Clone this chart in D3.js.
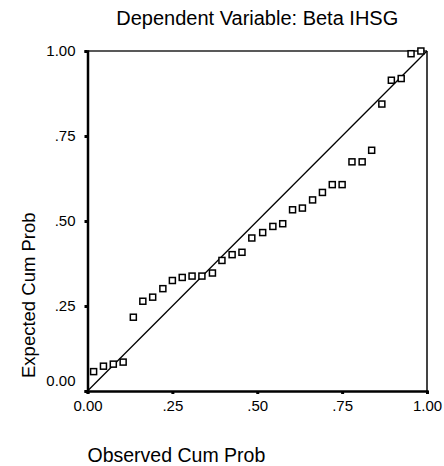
<!DOCTYPE html>
<html><head><meta charset="utf-8">
<script src="https://cdn.jsdelivr.net/npm/d3@7"></script>
<style>body{margin:0;background:#fff}svg{display:block}text{font-family:"Liberation Sans",Arial,sans-serif;fill:#000}</style>
</head><body>
<script>
const titleText = "Dependent Variable: Beta IHSG";
const xLabel = "Observed Cum Prob";
const yLabel = "Expected Cum Prob";
const tickValues = [0, 0.25, 0.5, 0.75, 1];
const tickLabels = ["0.00", ".25", ".50", ".75", "1.00"];
const observed = [0.018,0.047,0.076,0.105,0.135,0.163,0.192,0.222,0.250,0.279,0.308,0.337,0.368,0.396,0.426,0.455,0.484,0.516,0.546,0.575,0.604,0.633,0.663,0.692,0.721,0.750,0.779,0.809,0.837,0.867,0.895,0.924,0.953,0.982];
const expected = [0.057,0.073,0.079,0.085,0.217,0.264,0.276,0.301,0.325,0.334,0.338,0.338,0.347,0.384,0.401,0.408,0.450,0.466,0.484,0.492,0.533,0.538,0.562,0.584,0.607,0.607,0.674,0.674,0.708,0.844,0.914,0.919,0.992,1.000];

const W = 444, H = 466;
const m = {left: 87.5, right: 17, top: 51, bottom: 75};
const svg = d3.select("body").append("svg").attr("width", W).attr("height", H);
const x = d3.scaleLinear().domain([0,1]).range([m.left, W - m.right]);
const y = d3.scaleLinear().domain([0,1]).range([H - m.bottom, m.top]);

// frame top/right
svg.append("line").attr("x1", x(0)).attr("x2", x(1)).attr("y1", y(1)).attr("y2", y(1)).attr("stroke", "#222").attr("stroke-width", 1.5);
svg.append("line").attr("x1", x(1)).attr("x2", x(1)).attr("y1", y(1)).attr("y2", y(0)).attr("stroke", "#444").attr("stroke-width", 2);

// diagonal
svg.append("line").attr("x1", x(0)).attr("y1", y(0)).attr("x2", x(1)).attr("y2", y(1)).attr("stroke", "#000").attr("stroke-width", 1.3);

// axes
const xAxis = d3.axisBottom(x).tickValues(tickValues).tickFormat((d,i)=>tickLabels[i]).tickSize(3).tickPadding(6);
const gx = svg.append("g").attr("transform", `translate(0,${y(0)})`).call(xAxis);
gx.select(".domain").attr("stroke", "#000").attr("stroke-width", 2.5);
gx.selectAll(".tick line").attr("stroke", "#000").attr("stroke-width", 3);
gx.selectAll(".tick text").attr("font-size", 15).attr("font-family", '"Liberation Sans",Arial,sans-serif');

const yAxis = d3.axisLeft(y).tickValues(tickValues).tickFormat((d,i)=>tickLabels[i]).tickSize(3).tickPadding(9);
const gy = svg.append("g").attr("transform", `translate(${x(0)},0)`).call(yAxis);
gy.select(".domain").attr("stroke", "#000").attr("stroke-width", 2.5);
gy.selectAll(".tick line").attr("stroke", "#000").attr("stroke-width", 3);
gy.selectAll(".tick text").attr("font-size", 15).attr("font-family", '"Liberation Sans",Arial,sans-serif')
  .attr("dy", d => d === 0 ? "-0.35em" : "0.32em");

// points
const pts = observed.map((o,i)=>({o, e: expected[i]}));
const s = 6;
svg.append("g").selectAll("rect").data(pts).join("rect")
  .attr("x", d => x(d.o) - s/2).attr("y", d => y(d.e) - s/2)
  .attr("width", s).attr("height", s)
  .attr("fill", "#fff").attr("stroke", "#000").attr("stroke-width", 1.5);

// titles
svg.append("text").attr("x", (x(0)+x(1))/2).attr("y", 25).attr("text-anchor", "middle").attr("font-size", 20).text(titleText);
svg.append("text").attr("x", x(0)).attr("y", 462).attr("font-size", 19.5).text(xLabel);
svg.append("text").attr("transform", `translate(35,${378}) rotate(-90)`).attr("font-size", 18.5).text(yLabel);
</script>
</body></html>
